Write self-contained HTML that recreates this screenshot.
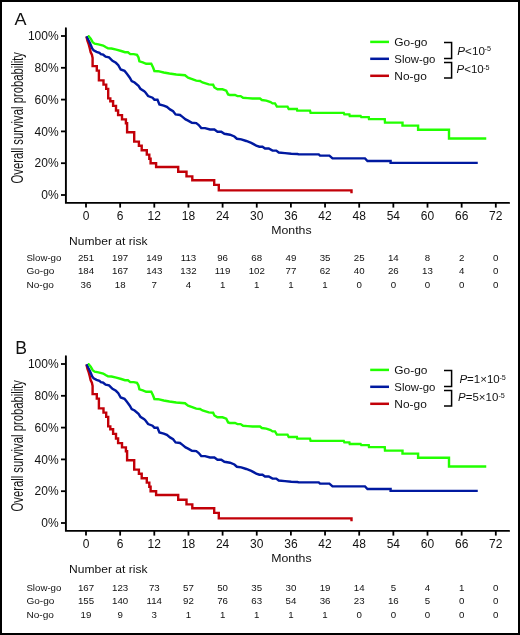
<!DOCTYPE html>
<html><head><meta charset="utf-8"><style>
html,body{margin:0;padding:0;background:#fff;}
svg{display:block;will-change:transform;}
text{font-family:"Liberation Sans",sans-serif;fill:#111;}
.tk{font-size:12px;}
.mo{font-size:11.7px;}
.yt{font-size:16px;}
.lg{font-size:11.4px;}
.pv{font-size:11px;}
.sup{font-size:7.2px;}
.nr{font-size:11.4px;}
.rk{font-size:9.7px;}
.pl{font-size:17px;}
</style></head><body>
<svg width="520" height="635" viewBox="0 0 520 635">
<rect x="0" y="0" width="520" height="635" fill="#fff"/>
<text x="14.5" y="25.1" class="pl" textLength="12" lengthAdjust="spacingAndGlyphs">A</text>
<text x="15.3" y="353.6" class="pl" style="font-size:17.6px">B</text>
<g transform="translate(0,0)">
<path d="M65.9,28.2 V202.9 H509.1" fill="none" stroke="#000" stroke-width="1.9" stroke-linecap="round" stroke-linejoin="miter" stroke-miterlimit="2"/>
<line x1="61" y1="36" x2="65.9" y2="36" stroke="#000" stroke-width="1.8"/>
<line x1="61" y1="67.8" x2="65.9" y2="67.8" stroke="#000" stroke-width="1.8"/>
<line x1="61" y1="99.6" x2="65.9" y2="99.6" stroke="#000" stroke-width="1.8"/>
<line x1="61" y1="131.4" x2="65.9" y2="131.4" stroke="#000" stroke-width="1.8"/>
<line x1="61" y1="163.2" x2="65.9" y2="163.2" stroke="#000" stroke-width="1.8"/>
<line x1="61" y1="195.0" x2="65.9" y2="195.0" stroke="#000" stroke-width="1.8"/>
<text x="58.6" y="40.25" text-anchor="end" class="tk">100%</text>
<text x="58.6" y="72.05" text-anchor="end" class="tk">80%</text>
<text x="58.6" y="103.85" text-anchor="end" class="tk">60%</text>
<text x="58.6" y="135.65" text-anchor="end" class="tk">40%</text>
<text x="58.6" y="167.45" text-anchor="end" class="tk">20%</text>
<text x="58.6" y="199.25" text-anchor="end" class="tk">0%</text>
<line x1="86.00" y1="202.9" x2="86.00" y2="207.6" stroke="#000" stroke-width="1.8"/>
<text x="86.00" y="220" text-anchor="middle" class="tk">0</text>
<line x1="120.15" y1="202.9" x2="120.15" y2="207.6" stroke="#000" stroke-width="1.8"/>
<text x="120.15" y="220" text-anchor="middle" class="tk">6</text>
<line x1="154.30" y1="202.9" x2="154.30" y2="207.6" stroke="#000" stroke-width="1.8"/>
<text x="154.30" y="220" text-anchor="middle" class="tk">12</text>
<line x1="188.45" y1="202.9" x2="188.45" y2="207.6" stroke="#000" stroke-width="1.8"/>
<text x="188.45" y="220" text-anchor="middle" class="tk">18</text>
<line x1="222.60" y1="202.9" x2="222.60" y2="207.6" stroke="#000" stroke-width="1.8"/>
<text x="222.60" y="220" text-anchor="middle" class="tk">24</text>
<line x1="256.75" y1="202.9" x2="256.75" y2="207.6" stroke="#000" stroke-width="1.8"/>
<text x="256.75" y="220" text-anchor="middle" class="tk">30</text>
<line x1="290.90" y1="202.9" x2="290.90" y2="207.6" stroke="#000" stroke-width="1.8"/>
<text x="290.90" y="220" text-anchor="middle" class="tk">36</text>
<line x1="325.05" y1="202.9" x2="325.05" y2="207.6" stroke="#000" stroke-width="1.8"/>
<text x="325.05" y="220" text-anchor="middle" class="tk">42</text>
<line x1="359.20" y1="202.9" x2="359.20" y2="207.6" stroke="#000" stroke-width="1.8"/>
<text x="359.20" y="220" text-anchor="middle" class="tk">48</text>
<line x1="393.35" y1="202.9" x2="393.35" y2="207.6" stroke="#000" stroke-width="1.8"/>
<text x="393.35" y="220" text-anchor="middle" class="tk">54</text>
<line x1="427.50" y1="202.9" x2="427.50" y2="207.6" stroke="#000" stroke-width="1.8"/>
<text x="427.50" y="220" text-anchor="middle" class="tk">60</text>
<line x1="461.65" y1="202.9" x2="461.65" y2="207.6" stroke="#000" stroke-width="1.8"/>
<text x="461.65" y="220" text-anchor="middle" class="tk">66</text>
<line x1="495.80" y1="202.9" x2="495.80" y2="207.6" stroke="#000" stroke-width="1.8"/>
<text x="495.80" y="220" text-anchor="middle" class="tk">72</text>
<text x="291.4" y="233.9" text-anchor="middle" class="mo" textLength="40.4" lengthAdjust="spacingAndGlyphs">Months</text>
<text transform="translate(22.7,117.75) rotate(-90)" text-anchor="middle" class="yt" textLength="131.5" lengthAdjust="spacingAndGlyphs">Overall survival probability</text>
<path d="M86.4,36.5 L87.4,40.7 L88.8,44.6 L89.8,48.4 L90.7,52.3 L91.9,54.7 L92.6,58 V66.1 H96.8 V70.6 H98.9 V80.4 H103.5 V84.6 H106.2 V88.9 H108.2 V98.4 H110.3 V101.3 H113.1 V105.9 H116 V110.5 H118.1 V115.1 H122 V119.4 H125.9 V123.2 H127.1 V132.3 H134.2 V141.6 H138.9 V145.7 H141.7 V150.3 H146.8 V154.6 H149.3 V158.8 H150.6 V163.3 H156.1 V167 H178.2 V171.8 H186.5 V176.4 H192.3 V180.3 H214.2 V184.9 H218.8 V190.4 H351.5 V193.2" fill="none" stroke="#c20008" stroke-width="2.4" stroke-linejoin="miter" stroke-miterlimit="2"/>
<polyline points="86.60,36.30 86.90,36.90 88.30,39.80 89.80,42.70 91.20,46.00 92.20,48.40 93.60,50.30 96.50,51.80 99.40,52.75 100.80,54.20 103.20,54.70 105.60,56.60 109.00,57.30 112.50,60.90 115.90,62.80 118.30,65.20 120.70,69.50 124.50,70.80 126.90,73.85 129.80,77.70 131.70,81.05 134.60,82.50 138.50,85.90 140.40,88.75 144.20,91.15 145.50,92.50 148.10,96.00 152.50,97.75 154.40,99.70 157.50,99.75 159.40,104.40 163.75,105.60 166.90,106.90 170.00,109.40 173.10,111.25 175.60,114.40 180.00,115.00 182.50,116.90 185.60,119.40 188.10,120.60 191.90,122.75 196.25,123.10 198.75,125.00 201.25,128.10 205.00,128.10 210.00,129.50 214.40,129.50 217.50,131.70 221.25,131.70 224.40,133.75 230.00,134.75 234.40,136.50 236.90,138.75 241.25,139.40 246.25,141.00 251.25,142.90 256.25,145.60 259.40,146.70 262.50,146.70 265.00,148.50 268.75,148.50 272.50,150.60 276.25,150.60 278.75,152.50 285.00,153.10 291.25,153.75 297.50,154.00 298.75,154.40 318.75,154.40 320.00,155.60 329.40,155.60 332.50,158.40 365.00,158.40 367.50,161.00 390.60,161.00 390.60,162.90 477.75,162.90" fill="none" stroke="#0019a0" stroke-width="2.4" stroke-linejoin="miter" stroke-miterlimit="2"/>
<polyline points="87.90,36.10 88.60,36.10 90.70,38.60 92.70,42.20 94.60,43.60 98.40,44.30 103.20,45.50 105.60,47.00 108.00,48.30 111.50,48.50 116.30,49.60 121.20,51.00 125.00,52.20 127.90,52.20 130.30,54.10 133.70,54.10 137.00,54.80 138.50,57.50 139.40,61.30 142.80,62.30 146.20,63.75 151.25,63.75 153.10,67.50 154.40,71.00 158.10,71.20 163.75,72.50 169.40,73.50 176.25,74.50 185.00,75.25 188.10,77.70 196.25,80.60 200.00,81.00 202.50,82.50 208.75,84.40 213.10,84.75 214.40,87.50 217.50,89.30 222.50,89.30 226.25,90.60 228.10,94.40 230.00,95.00 235.00,95.00 237.50,96.10 240.60,96.10 243.10,97.75 247.50,98.10 252.50,98.50 260.00,98.50 261.90,100.00 266.25,100.60 270.60,102.10 272.50,103.40 275.00,103.40 276.90,106.60 287.50,106.60 288.75,109.00 296.90,109.00 297.25,110.60 310.00,110.60 310.60,112.90 343.75,112.90 344.40,114.40 349.40,114.40 349.75,116.00 360.60,116.00 361.25,117.10 368.75,117.10 369.00,119.10 384.75,119.10 385.00,122.60 402.50,122.60 402.50,125.60 418.10,125.60 418.10,129.70 449.00,129.70 449.00,138.50 486.25,138.50" fill="none" stroke="#22ff00" stroke-width="2.4" stroke-linejoin="miter" stroke-miterlimit="2"/>
<line x1="370.2" y1="41.9" x2="389" y2="41.9" stroke="#22ff00" stroke-width="2.5"/>
<text x="394.3" y="46.4" class="lg" textLength="33.2" lengthAdjust="spacingAndGlyphs">Go-go</text>
<line x1="370.2" y1="58.8" x2="389" y2="58.8" stroke="#0019a0" stroke-width="2.5"/>
<text x="394.3" y="63.1" class="lg">Slow-go</text>
<line x1="370.2" y1="75.8" x2="389" y2="75.8" stroke="#c20008" stroke-width="2.5"/>
<text x="394.3" y="79.8" class="lg" textLength="32.5" lengthAdjust="spacingAndGlyphs">No-go</text>
<path d="M444,42.6 H451.6 V58.6 H444" fill="none" stroke="#000" stroke-width="1.5"/>
<path d="M444,62.5 H451.6 V77.9 H444" fill="none" stroke="#000" stroke-width="1.5"/>
<text x="457.3" y="54.7" class="pv" textLength="27.6" lengthAdjust="spacingAndGlyphs"><tspan font-style="italic">P</tspan>&lt;10</text><text x="484.6" y="51.40" class="sup">-5</text><text x="456.5" y="73.1" class="pv" textLength="27.2" lengthAdjust="spacingAndGlyphs"><tspan font-style="italic">P</tspan>&lt;10</text><text x="483.2" y="69.80" class="sup">-5</text>
</g>
<g transform="translate(0,0)"><text x="69.1" y="245" class="nr" textLength="78.4" lengthAdjust="spacingAndGlyphs">Number at risk</text></g>
<g transform="translate(0,0)">
<text x="26.4" y="261.2" class="rk">Slow-go</text>
<text x="86.00" y="261.2" text-anchor="middle" class="rk">251</text>
<text x="120.15" y="261.2" text-anchor="middle" class="rk">197</text>
<text x="154.30" y="261.2" text-anchor="middle" class="rk">149</text>
<text x="188.45" y="261.2" text-anchor="middle" class="rk">113</text>
<text x="222.60" y="261.2" text-anchor="middle" class="rk">96</text>
<text x="256.75" y="261.2" text-anchor="middle" class="rk">68</text>
<text x="290.90" y="261.2" text-anchor="middle" class="rk">49</text>
<text x="325.05" y="261.2" text-anchor="middle" class="rk">35</text>
<text x="359.20" y="261.2" text-anchor="middle" class="rk">25</text>
<text x="393.35" y="261.2" text-anchor="middle" class="rk">14</text>
<text x="427.50" y="261.2" text-anchor="middle" class="rk">8</text>
<text x="461.65" y="261.2" text-anchor="middle" class="rk">2</text>
<text x="495.80" y="261.2" text-anchor="middle" class="rk">0</text>
<text x="26.4" y="274.3" class="rk" textLength="28" lengthAdjust="spacingAndGlyphs">Go-go</text>
<text x="86.00" y="274.3" text-anchor="middle" class="rk">184</text>
<text x="120.15" y="274.3" text-anchor="middle" class="rk">167</text>
<text x="154.30" y="274.3" text-anchor="middle" class="rk">143</text>
<text x="188.45" y="274.3" text-anchor="middle" class="rk">132</text>
<text x="222.60" y="274.3" text-anchor="middle" class="rk">119</text>
<text x="256.75" y="274.3" text-anchor="middle" class="rk">102</text>
<text x="290.90" y="274.3" text-anchor="middle" class="rk">77</text>
<text x="325.05" y="274.3" text-anchor="middle" class="rk">62</text>
<text x="359.20" y="274.3" text-anchor="middle" class="rk">40</text>
<text x="393.35" y="274.3" text-anchor="middle" class="rk">26</text>
<text x="427.50" y="274.3" text-anchor="middle" class="rk">13</text>
<text x="461.65" y="274.3" text-anchor="middle" class="rk">4</text>
<text x="495.80" y="274.3" text-anchor="middle" class="rk">0</text>
<text x="26.4" y="287.7" class="rk" textLength="27.5" lengthAdjust="spacingAndGlyphs">No-go</text>
<text x="86.00" y="287.7" text-anchor="middle" class="rk">36</text>
<text x="120.15" y="287.7" text-anchor="middle" class="rk">18</text>
<text x="154.30" y="287.7" text-anchor="middle" class="rk">7</text>
<text x="188.45" y="287.7" text-anchor="middle" class="rk">4</text>
<text x="222.60" y="287.7" text-anchor="middle" class="rk">1</text>
<text x="256.75" y="287.7" text-anchor="middle" class="rk">1</text>
<text x="290.90" y="287.7" text-anchor="middle" class="rk">1</text>
<text x="325.05" y="287.7" text-anchor="middle" class="rk">1</text>
<text x="359.20" y="287.7" text-anchor="middle" class="rk">0</text>
<text x="393.35" y="287.7" text-anchor="middle" class="rk">0</text>
<text x="427.50" y="287.7" text-anchor="middle" class="rk">0</text>
<text x="461.65" y="287.7" text-anchor="middle" class="rk">0</text>
<text x="495.80" y="287.7" text-anchor="middle" class="rk">0</text>
</g>
<g transform="translate(0,328)">
<path d="M65.9,28.2 V202.9 H509.1" fill="none" stroke="#000" stroke-width="1.9" stroke-linecap="round" stroke-linejoin="miter" stroke-miterlimit="2"/>
<line x1="61" y1="36" x2="65.9" y2="36" stroke="#000" stroke-width="1.8"/>
<line x1="61" y1="67.8" x2="65.9" y2="67.8" stroke="#000" stroke-width="1.8"/>
<line x1="61" y1="99.6" x2="65.9" y2="99.6" stroke="#000" stroke-width="1.8"/>
<line x1="61" y1="131.4" x2="65.9" y2="131.4" stroke="#000" stroke-width="1.8"/>
<line x1="61" y1="163.2" x2="65.9" y2="163.2" stroke="#000" stroke-width="1.8"/>
<line x1="61" y1="195.0" x2="65.9" y2="195.0" stroke="#000" stroke-width="1.8"/>
<text x="58.6" y="40.25" text-anchor="end" class="tk">100%</text>
<text x="58.6" y="72.05" text-anchor="end" class="tk">80%</text>
<text x="58.6" y="103.85" text-anchor="end" class="tk">60%</text>
<text x="58.6" y="135.65" text-anchor="end" class="tk">40%</text>
<text x="58.6" y="167.45" text-anchor="end" class="tk">20%</text>
<text x="58.6" y="199.25" text-anchor="end" class="tk">0%</text>
<line x1="86.00" y1="202.9" x2="86.00" y2="207.6" stroke="#000" stroke-width="1.8"/>
<text x="86.00" y="220" text-anchor="middle" class="tk">0</text>
<line x1="120.15" y1="202.9" x2="120.15" y2="207.6" stroke="#000" stroke-width="1.8"/>
<text x="120.15" y="220" text-anchor="middle" class="tk">6</text>
<line x1="154.30" y1="202.9" x2="154.30" y2="207.6" stroke="#000" stroke-width="1.8"/>
<text x="154.30" y="220" text-anchor="middle" class="tk">12</text>
<line x1="188.45" y1="202.9" x2="188.45" y2="207.6" stroke="#000" stroke-width="1.8"/>
<text x="188.45" y="220" text-anchor="middle" class="tk">18</text>
<line x1="222.60" y1="202.9" x2="222.60" y2="207.6" stroke="#000" stroke-width="1.8"/>
<text x="222.60" y="220" text-anchor="middle" class="tk">24</text>
<line x1="256.75" y1="202.9" x2="256.75" y2="207.6" stroke="#000" stroke-width="1.8"/>
<text x="256.75" y="220" text-anchor="middle" class="tk">30</text>
<line x1="290.90" y1="202.9" x2="290.90" y2="207.6" stroke="#000" stroke-width="1.8"/>
<text x="290.90" y="220" text-anchor="middle" class="tk">36</text>
<line x1="325.05" y1="202.9" x2="325.05" y2="207.6" stroke="#000" stroke-width="1.8"/>
<text x="325.05" y="220" text-anchor="middle" class="tk">42</text>
<line x1="359.20" y1="202.9" x2="359.20" y2="207.6" stroke="#000" stroke-width="1.8"/>
<text x="359.20" y="220" text-anchor="middle" class="tk">48</text>
<line x1="393.35" y1="202.9" x2="393.35" y2="207.6" stroke="#000" stroke-width="1.8"/>
<text x="393.35" y="220" text-anchor="middle" class="tk">54</text>
<line x1="427.50" y1="202.9" x2="427.50" y2="207.6" stroke="#000" stroke-width="1.8"/>
<text x="427.50" y="220" text-anchor="middle" class="tk">60</text>
<line x1="461.65" y1="202.9" x2="461.65" y2="207.6" stroke="#000" stroke-width="1.8"/>
<text x="461.65" y="220" text-anchor="middle" class="tk">66</text>
<line x1="495.80" y1="202.9" x2="495.80" y2="207.6" stroke="#000" stroke-width="1.8"/>
<text x="495.80" y="220" text-anchor="middle" class="tk">72</text>
<text x="291.4" y="233.9" text-anchor="middle" class="mo" textLength="40.4" lengthAdjust="spacingAndGlyphs">Months</text>
<text transform="translate(22.7,117.75) rotate(-90)" text-anchor="middle" class="yt" textLength="131.5" lengthAdjust="spacingAndGlyphs">Overall survival probability</text>
<path d="M86.4,36.5 L87.4,40.7 L88.8,44.6 L89.8,48.4 L90.7,52.3 L91.9,54.7 L92.6,58 V66.1 H96.8 V70.6 H98.9 V80.4 H103.5 V84.6 H106.2 V88.9 H108.2 V98.4 H110.3 V101.3 H113.1 V105.9 H116 V110.5 H118.1 V115.1 H122 V119.4 H125.9 V123.2 H127.1 V132.3 H134.2 V141.6 H138.9 V145.7 H141.7 V150.3 H146.8 V154.6 H149.3 V158.8 H150.6 V163.3 H156.1 V167 H178.2 V171.8 H186.5 V176.4 H192.3 V180.3 H214.2 V184.9 H218.8 V190.4 H351.5 V193.2" fill="none" stroke="#c20008" stroke-width="2.4" stroke-linejoin="miter" stroke-miterlimit="2"/>
<polyline points="86.60,36.30 86.90,36.90 88.30,39.80 89.80,42.70 91.20,46.00 92.20,48.40 93.60,50.30 96.50,51.80 99.40,52.75 100.80,54.20 103.20,54.70 105.60,56.60 109.00,57.30 112.50,60.90 115.90,62.80 118.30,65.20 120.70,69.50 124.50,70.80 126.90,73.85 129.80,77.70 131.70,81.05 134.60,82.50 138.50,85.90 140.40,88.75 144.20,91.15 145.50,92.50 148.10,96.00 152.50,97.75 154.40,99.70 157.50,99.75 159.40,104.40 163.75,105.60 166.90,106.90 170.00,109.40 173.10,111.25 175.60,114.40 180.00,115.00 182.50,116.90 185.60,119.40 188.10,120.60 191.90,122.75 196.25,123.10 198.75,125.00 201.25,128.10 205.00,128.10 210.00,129.50 214.40,129.50 217.50,131.70 221.25,131.70 224.40,133.75 230.00,134.75 234.40,136.50 236.90,138.75 241.25,139.40 246.25,141.00 251.25,142.90 256.25,145.60 259.40,146.70 262.50,146.70 265.00,148.50 268.75,148.50 272.50,150.60 276.25,150.60 278.75,152.50 285.00,153.10 291.25,153.75 297.50,154.00 298.75,154.40 318.75,154.40 320.00,155.60 329.40,155.60 332.50,158.40 365.00,158.40 367.50,161.00 390.60,161.00 390.60,162.90 477.75,162.90" fill="none" stroke="#0019a0" stroke-width="2.4" stroke-linejoin="miter" stroke-miterlimit="2"/>
<polyline points="87.90,36.10 88.60,36.10 90.70,38.60 92.70,42.20 94.60,43.60 98.40,44.30 103.20,45.50 105.60,47.00 108.00,48.30 111.50,48.50 116.30,49.60 121.20,51.00 125.00,52.20 127.90,52.20 130.30,54.10 133.70,54.10 137.00,54.80 138.50,57.50 139.40,61.30 142.80,62.30 146.20,63.75 151.25,63.75 153.10,67.50 154.40,71.00 158.10,71.20 163.75,72.50 169.40,73.50 176.25,74.50 185.00,75.25 188.10,77.70 196.25,80.60 200.00,81.00 202.50,82.50 208.75,84.40 213.10,84.75 214.40,87.50 217.50,89.30 222.50,89.30 226.25,90.60 228.10,94.40 230.00,95.00 235.00,95.00 237.50,96.10 240.60,96.10 243.10,97.75 247.50,98.10 252.50,98.50 260.00,98.50 261.90,100.00 266.25,100.60 270.60,102.10 272.50,103.40 275.00,103.40 276.90,106.60 287.50,106.60 288.75,109.00 296.90,109.00 297.25,110.60 310.00,110.60 310.60,112.90 343.75,112.90 344.40,114.40 349.40,114.40 349.75,116.00 360.60,116.00 361.25,117.10 368.75,117.10 369.00,119.10 384.75,119.10 385.00,122.60 402.50,122.60 402.50,125.60 418.10,125.60 418.10,129.70 449.00,129.70 449.00,138.50 486.25,138.50" fill="none" stroke="#22ff00" stroke-width="2.4" stroke-linejoin="miter" stroke-miterlimit="2"/>
<line x1="370.2" y1="41.9" x2="389" y2="41.9" stroke="#22ff00" stroke-width="2.5"/>
<text x="394.3" y="46.4" class="lg" textLength="33.2" lengthAdjust="spacingAndGlyphs">Go-go</text>
<line x1="370.2" y1="58.8" x2="389" y2="58.8" stroke="#0019a0" stroke-width="2.5"/>
<text x="394.3" y="63.1" class="lg">Slow-go</text>
<line x1="370.2" y1="75.8" x2="389" y2="75.8" stroke="#c20008" stroke-width="2.5"/>
<text x="394.3" y="79.8" class="lg" textLength="32.5" lengthAdjust="spacingAndGlyphs">No-go</text>
<path d="M444,42.6 H451.6 V58.6 H444" fill="none" stroke="#000" stroke-width="1.5"/>
<path d="M444,62.5 H451.6 V77.9 H444" fill="none" stroke="#000" stroke-width="1.5"/>
<text x="459.4" y="55.0" class="pv" textLength="40.3" lengthAdjust="spacingAndGlyphs"><tspan font-style="italic">P</tspan>=1×10</text><text x="499.4" y="51.70" class="sup">-5</text><text x="458.1" y="73.2" class="pv" textLength="40.2" lengthAdjust="spacingAndGlyphs"><tspan font-style="italic">P</tspan>=5×10</text><text x="498.4" y="69.90" class="sup">-5</text>
</g>
<g transform="translate(0,328)"><text x="69.1" y="245" class="nr" textLength="78.4" lengthAdjust="spacingAndGlyphs">Number at risk</text></g>
<g transform="translate(0,330)">
<text x="26.4" y="261.2" class="rk">Slow-go</text>
<text x="86.00" y="261.2" text-anchor="middle" class="rk">167</text>
<text x="120.15" y="261.2" text-anchor="middle" class="rk">123</text>
<text x="154.30" y="261.2" text-anchor="middle" class="rk">73</text>
<text x="188.45" y="261.2" text-anchor="middle" class="rk">57</text>
<text x="222.60" y="261.2" text-anchor="middle" class="rk">50</text>
<text x="256.75" y="261.2" text-anchor="middle" class="rk">35</text>
<text x="290.90" y="261.2" text-anchor="middle" class="rk">30</text>
<text x="325.05" y="261.2" text-anchor="middle" class="rk">19</text>
<text x="359.20" y="261.2" text-anchor="middle" class="rk">14</text>
<text x="393.35" y="261.2" text-anchor="middle" class="rk">5</text>
<text x="427.50" y="261.2" text-anchor="middle" class="rk">4</text>
<text x="461.65" y="261.2" text-anchor="middle" class="rk">1</text>
<text x="495.80" y="261.2" text-anchor="middle" class="rk">0</text>
<text x="26.4" y="274.3" class="rk" textLength="28" lengthAdjust="spacingAndGlyphs">Go-go</text>
<text x="86.00" y="274.3" text-anchor="middle" class="rk">155</text>
<text x="120.15" y="274.3" text-anchor="middle" class="rk">140</text>
<text x="154.30" y="274.3" text-anchor="middle" class="rk">114</text>
<text x="188.45" y="274.3" text-anchor="middle" class="rk">92</text>
<text x="222.60" y="274.3" text-anchor="middle" class="rk">76</text>
<text x="256.75" y="274.3" text-anchor="middle" class="rk">63</text>
<text x="290.90" y="274.3" text-anchor="middle" class="rk">54</text>
<text x="325.05" y="274.3" text-anchor="middle" class="rk">36</text>
<text x="359.20" y="274.3" text-anchor="middle" class="rk">23</text>
<text x="393.35" y="274.3" text-anchor="middle" class="rk">16</text>
<text x="427.50" y="274.3" text-anchor="middle" class="rk">5</text>
<text x="461.65" y="274.3" text-anchor="middle" class="rk">0</text>
<text x="495.80" y="274.3" text-anchor="middle" class="rk">0</text>
<text x="26.4" y="287.7" class="rk" textLength="27.5" lengthAdjust="spacingAndGlyphs">No-go</text>
<text x="86.00" y="287.7" text-anchor="middle" class="rk">19</text>
<text x="120.15" y="287.7" text-anchor="middle" class="rk">9</text>
<text x="154.30" y="287.7" text-anchor="middle" class="rk">3</text>
<text x="188.45" y="287.7" text-anchor="middle" class="rk">1</text>
<text x="222.60" y="287.7" text-anchor="middle" class="rk">1</text>
<text x="256.75" y="287.7" text-anchor="middle" class="rk">1</text>
<text x="290.90" y="287.7" text-anchor="middle" class="rk">1</text>
<text x="325.05" y="287.7" text-anchor="middle" class="rk">1</text>
<text x="359.20" y="287.7" text-anchor="middle" class="rk">0</text>
<text x="393.35" y="287.7" text-anchor="middle" class="rk">0</text>
<text x="427.50" y="287.7" text-anchor="middle" class="rk">0</text>
<text x="461.65" y="287.7" text-anchor="middle" class="rk">0</text>
<text x="495.80" y="287.7" text-anchor="middle" class="rk">0</text>
</g>
<rect x="0" y="0" width="520" height="2" fill="#000"/>
<rect x="0" y="0" width="2" height="635" fill="#000"/>
<rect x="518" y="0" width="2" height="635" fill="#000"/>
<rect x="0" y="633" width="520" height="2" fill="#000"/>
</svg>
</body></html>
